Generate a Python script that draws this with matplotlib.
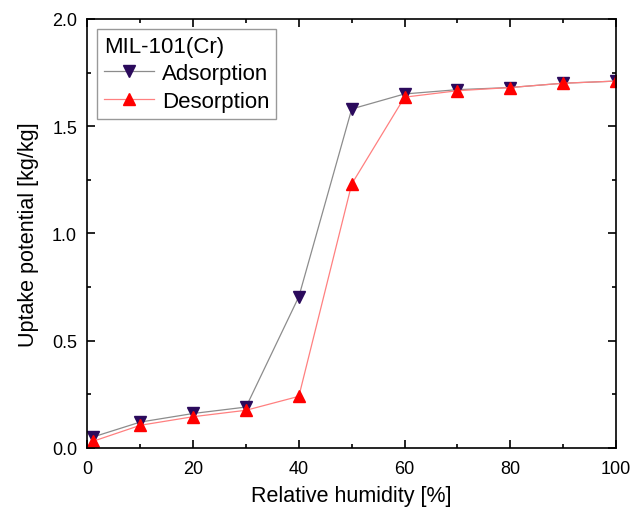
import matplotlib.pyplot as plt

plt.rcParams['font.family'] = ['Liberation Sans', 'DejaVu Sans']

rh = [1, 10, 20, 30, 40, 50, 60, 70, 80, 90, 100]
adsorption = [0.05, 0.12, 0.16, 0.19, 0.705, 1.58, 1.65, 1.67, 1.68, 1.70, 1.71]
desorption = [0.03, 0.105, 0.145, 0.175, 0.24, 1.23, 1.635, 1.665, 1.68, 1.70, 1.71]

fig = plt.figure(figsize=(6.43, 5.10), dpi=100)
ax = fig.add_axes([0.136, 0.12, 0.822, 0.841])

ax.plot(rh, adsorption, color='#8c8c8c', lw=0.9, marker='v', markersize=9,
        markerfacecolor='#2b0a5c', markeredgecolor='#2b0a5c', label='Adsorption')
ax.plot(rh, desorption, color='#ff8080', lw=0.9, marker='^', markersize=9,
        markerfacecolor='#ff0000', markeredgecolor='#ff0000', label='Desorption')

ax.set_xlim(0, 100)
ax.set_ylim(0, 2.0)
ax.set_xticks(range(0, 101, 20))
ax.set_xticks(range(10, 100, 20), minor=True)
ax.set_yticks([0, 0.5, 1.0, 1.5, 2.0])
ax.set_yticks([0.25, 0.75, 1.25, 1.75], minor=True)
ax.tick_params(which='both', direction='in', top=True, right=True, labelsize=13, width=1.2)
ax.tick_params(which='major', length=6)
ax.tick_params(which='minor', length=3)
ax.tick_params(axis='x', which='both', pad=8.5)
ax.tick_params(axis='y', which='both', pad=7.5)
for s in ax.spines.values():
    s.set_linewidth(1.2)

ax.set_xlabel('Relative humidity [%]', fontsize=15.5, labelpad=6)
ax.set_ylabel('Uptake potential [kg/kg]', fontsize=15.5, labelpad=9)

leg = ax.legend(title='MIL-101(Cr)', loc='upper left', fontsize=16, title_fontsize=16,
                fancybox=False, edgecolor='#808080', borderaxespad=0.45,
                handlelength=2.25, labelspacing=0.3, borderpad=0.3, handletextpad=0.35)
leg._legend_box.align = 'left'
leg.get_frame().set_linewidth(1.0)

fig.savefig('out.png', dpi=100)
